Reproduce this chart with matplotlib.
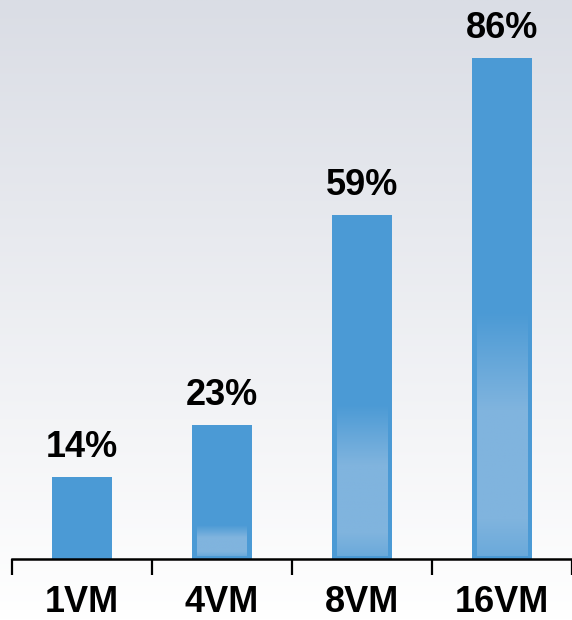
import numpy as np
import matplotlib
matplotlib.use("Agg")
import matplotlib.pyplot as plt
from matplotlib.colors import to_rgb

categories = ["1VM", "4VM", "8VM", "16VM"]
values = [14, 23, 59, 86]
value_labels = ["14%", "23%", "59%", "86%"]

BAR_COLOR = "#4b9ad5"
LIGHT_COLOR = "#80b4de"
BG_TOP = "#dadde5"

plt.rcParams["font.family"] = ["Liberation Sans", "DejaVu Sans"]

fig = plt.figure(figsize=(5.72, 6.2), dpi=100)

# background gradient (top grey-blue to white)
bg = fig.add_axes([0, 0, 1, 1], zorder=-10)
top = np.array(to_rgb(BG_TOP))
t = np.linspace(0, 1, 256)[:, None]
grad = top[None, :] * (1 - t) + np.ones(3)[None, :] * t
bg.imshow(grad[:, None, :].repeat(2, axis=1), aspect="auto", extent=[0, 1, 0, 1])
bg.set_axis_off()

ax = fig.add_axes([12 / 572, 61 / 620, 560 / 572, 559 / 620])
ax.patch.set_alpha(0)
n = len(categories)
centers = np.arange(n) + 0.5
width = 60 / 140
ax.bar(centers, values, width=width, color=BAR_COLOR, zorder=2)

# lighter "reflection" in the lower part of each bar
base = np.array(to_rgb(BAR_COLOR))
light = np.array(to_rgb(LIGHT_COLOR))
for c, v in zip(centers, values):
    h = 0.58 * (v - 14)
    if h <= 0:
        continue
    s = np.linspace(0, 1, 200)  # 0 top -> 1 bottom
    amt = np.clip(s / 0.4, 0, 1)
    amt = np.where(s > 0.85, 1 - (s - 0.85) / 0.15 * 0.4, amt)
    col = base[None, :] * (1 - amt[:, None]) + light[None, :] * amt[:, None]
    img = col[:, None, :].repeat(2, axis=1)
    inset = 5 / 140
    ax.imshow(img, aspect="auto", zorder=3,
              extent=[c - width / 2 + inset, c + width / 2 - inset, 0.5, 0.5 + h])

for c, v, lab in zip(centers, values, value_labels):
    ax.annotate(lab, (c, v), xytext=(0, 14.5), textcoords="offset points",
                ha="center", va="baseline", fontsize=26, fontweight="bold")

ax.set_xlim(0, n)
ax.set_ylim(0, 96)
ax.set_xticks(np.arange(n + 1))
ax.set_xticklabels([])
ax.set_xticks(centers, minor=True)
ax.set_xticklabels(categories, minor=True, fontsize=26, fontweight="bold")
ax.tick_params(axis="x", which="major", length=11.5, width=1.6, direction="out")
ax.tick_params(axis="x", which="minor", length=0, pad=19)
ax.set_yticks([])
for side in ["top", "right", "left"]:
    ax.spines[side].set_visible(False)
ax.spines["bottom"].set_linewidth(1.8)
ax.spines["bottom"].set_zorder(5)

fig.savefig("out.png", dpi=100)
